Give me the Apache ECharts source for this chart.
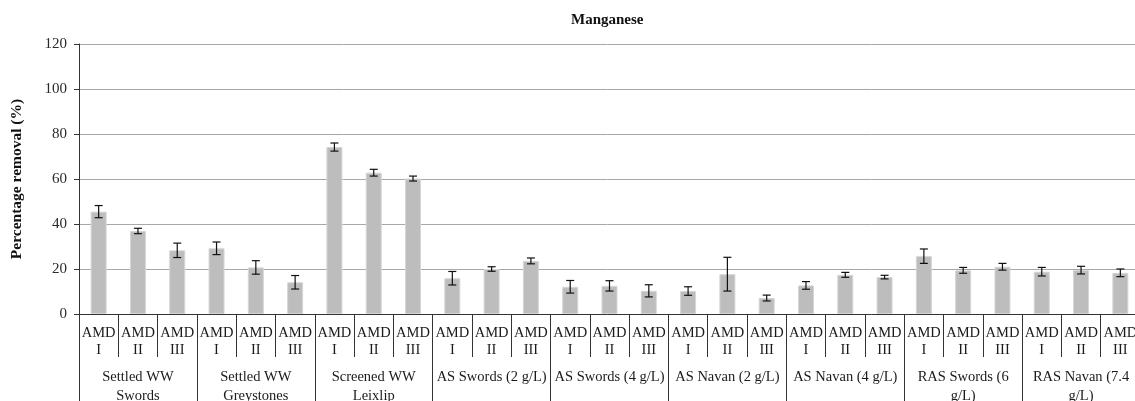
<!DOCTYPE html>
<html><head><meta charset="utf-8">
<script src="https://cdn.jsdelivr.net/npm/echarts@6/dist/echarts.min.js"></script>
<style>html,body{margin:0;padding:0;background:#fff}#c{width:1135px;height:401px}</style>
</head><body><div id="c"></div>
<script>
const groups = ["Settled WW\nSwords","Settled WW\nGreystones","Screened WW\nLeixlip","AS Swords (2 g/L)","AS Swords (4 g/L)","AS Navan (2 g/L)","AS Navan (4 g/L)","RAS Swords (6\ng/L)","RAS Navan (7.4\ng/L)"];
const treatments = ["AMD\nI","AMD\nII","AMD\nIII"];
const removal = [45.5,36.9,28.3, 29.2,20.7,14.1, 74.2,62.8,60.2, 15.9,20.0,23.6, 12.1,12.5,10.3, 10.2,17.7,7.1, 12.7,17.4,16.4, 25.7,19.4,21.0, 18.8,19.5,18.3];
const errors = [2.7,1.2,3.2, 2.8,3.0,3.0, 1.8,1.5,1.1, 3.0,1.0,1.3, 2.8,2.3,2.7, 1.9,7.5,1.3, 1.7,1.1,0.8, 3.2,1.3,1.5, 1.9,1.7,1.7];
const yTicks = {min:0,max:120,interval:20};

const categories = [];
groups.forEach(()=>treatments.forEach(t=>categories.push(t)));
const errData = removal.map((v,i)=>[i, v-errors[i], v+errors[i]]);

const font = "'Liberation Serif','DejaVu Serif',serif";
const chart = echarts.init(document.getElementById('c'));
chart.setOption({
  animation:false,
  textStyle:{fontFamily:font},
  title:{text:'Manganese',left:566,top:8,textStyle:{fontFamily:font,fontSize:15,fontWeight:'bold',color:'#111'}},
  grid:{left:79,top:44,width:1061,height:270,outerBoundsMode:'none',containLabel:false},
  xAxis:[{
    type:'category',data:categories,position:'bottom',
    axisLine:{lineStyle:{color:'#333',width:1}},
    axisTick:{show:true,length:43,interval:0,lineStyle:{color:'#333'}},
    axisLabel:{interval:0,color:'#1a1a1a',fontSize:14.5,lineHeight:17,margin:11,fontFamily:font},
  },{
    type:'category',data:groups,position:'bottom',offset:43,
    axisLine:{show:false},
    axisTick:{show:true,length:60,interval:0,lineStyle:{color:'#333'}},
    axisLabel:{interval:0,color:'#1a1a1a',fontSize:14.5,lineHeight:19,margin:11,fontFamily:font,verticalAlign:'top'},
  }],
  yAxis:{type:'value',min:yTicks.min,max:yTicks.max,interval:yTicks.interval,
    name:'Percentage removal (%)',nameLocation:'middle',nameGap:54,
    nameTextStyle:{fontFamily:font,fontSize:15.5,fontWeight:'bold',color:'#111'},
    axisLine:{show:true,lineStyle:{color:'#333'}},
    axisTick:{show:true,length:5,lineStyle:{color:'#333'}},
    axisLabel:{color:'#2a2a2a',fontSize:15,margin:12,fontFamily:font},
    splitLine:{lineStyle:{color:'#a8a8a8',width:1}}
  },
  series:[{
    type:'bar',data:removal,barWidth:16,xAxisIndex:0,
    itemStyle:{color:'#bdbdbd',borderColor:'#d6d6d6',borderWidth:1}
  },{
    type:'custom',xAxisIndex:0,data:errData,z:5,
    renderItem:function(params,api){
      const x=api.value(0);
      const lo=api.coord([x,api.value(1)]);
      const hi=api.coord([x,api.value(2)]);
      const hw=4;
      const st={stroke:'#111',lineWidth:1.2};
      return {type:'group',children:[
        {type:'line',shape:{x1:lo[0],y1:lo[1],x2:hi[0],y2:hi[1]},style:st},
        {type:'line',shape:{x1:lo[0]-hw,y1:lo[1],x2:lo[0]+hw,y2:lo[1]},style:st},
        {type:'line',shape:{x1:hi[0]-hw,y1:hi[1],x2:hi[0]+hw,y2:hi[1]},style:st}
      ]};
    }
  }]
});
</script></body></html>
